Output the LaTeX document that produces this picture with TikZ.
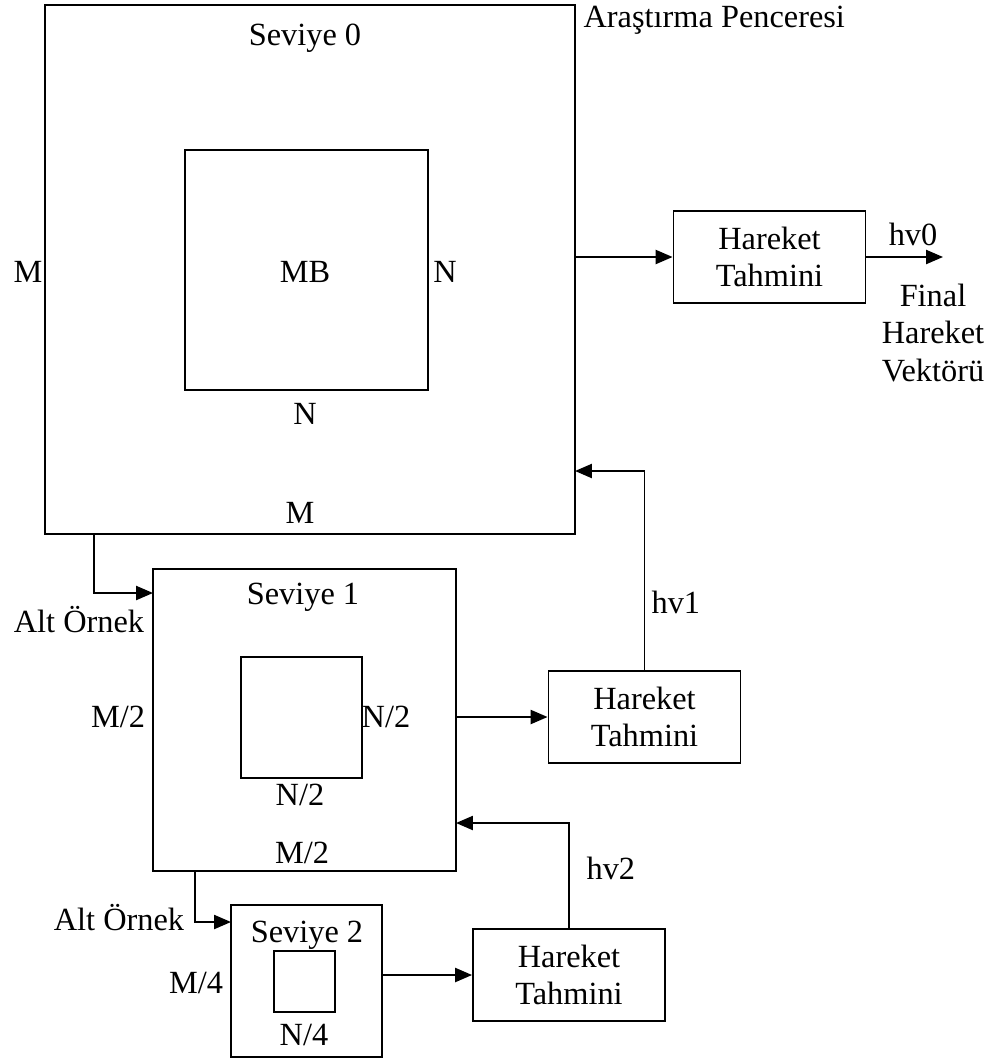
\documentclass[tikz,border=0pt]{standalone}
\usepackage{fontspec}
\setmainfont{Liberation Serif}
\usetikzlibrary{arrows.meta}

\begin{document}
\begin{tikzpicture}[x=0.025cm,y=-0.025cm,line width=1.3pt,
    every node/.style={font=\fontsize{23}{26.5}\selectfont},
    box/.style={draw,rectangle,inner sep=0pt},
    hbox/.style={box,minimum width=4.8cm,minimum height=2.28cm,align=center},
    arr/.style={-{Triangle[length=12pt,width=10pt]}}]
  \useasboundingbox (0,0) rectangle (1001,1061);
  % seviye 0
  \node[box,minimum width=13.25cm,minimum height=13.225cm] (lvl0) at (310,269.5) {};
  \node[box,minimum width=6.075cm,minimum height=6cm] (mb0) at (306.5,270) {};
  \node (s0) at (305,38) {Seviye 0};
  \node[anchor=west] (win) at (578,20) {Araştırma Penceresi};
  \node (m0l) at (28,272) {M};
  \node (mb) at (305,272) {MB};
  \node (n0r) at (445,272) {N};
  \node (n0b) at (305,414) {N};
  \node (m0b) at (300,513) {M};
  \node[hbox] (ht0) at (769.5,257) {Hareket\\Tahmini};
  \coordinate (out0) at (943,257);
  \draw[arr] (lvl0.east |- ht0.west) -- (ht0.west);
  \draw[arr] (ht0.east) -- (out0);
  \node[anchor=south] (hv0) at (913,251) {hv0};
  \node[align=center] (fin) at (933,333) {Final\\Hareket\\Vektörü};
  % seviye 1
  \node[box,minimum width=7.575cm,minimum height=7.55cm] (lvl1) at (304.5,720) {};
  \node[box,minimum width=3.025cm,minimum height=3.025cm] (in1) at (301.5,717.5) {};
  \node (s1) at (303,597) {Seviye 1};
  \node (m1l) at (118,717) {M/2};
  \node (n1r) at (386,717) {N/2};
  \node (n1b) at (300,795) {N/2};
  \node (m1b) at (302,853) {M/2};
  \node (alt0) at (79,620) {Alt Örnek};
  \coordinate (ds0) at (94,534);
  \coordinate (ds0e) at (153,593);
  \draw[arr] (ds0) |- (ds0e);
  \node[hbox] (ht1) at (644.5,717) {Hareket\\Tahmini};
  \draw[arr] (lvl1.east |- ht1.west) -- (ht1.west);
  \coordinate (fb1) at (575,471);
  \draw[arr] (ht1.north) |- (fb1);
  \node[anchor=west] (hv1) at (646,602) {hv1};
  % seviye 2
  \node[box,minimum width=3.775cm,minimum height=3.8cm] (lvl2) at (306.5,981) {};
  \node[box,minimum width=1.525cm,minimum height=1.525cm] (in2) at (304.5,981.5) {};
  \node (s2) at (307,935) {Seviye 2};
  \node (m2l) at (196,983) {M/4};
  \node (n2b) at (304,1035) {N/4};
  \node (alt1) at (119,918) {Alt Örnek};
  \coordinate (ds1) at (195,871);
  \coordinate (ds1e) at (231,922);
  \draw[arr] (ds1) |- (ds1e);
  \node[hbox] (ht2) at (569,975) {Hareket\\Tahmini};
  \draw[arr] (lvl2.east |- ht2.west) -- (ht2.west);
  \coordinate (fb2) at (456,823);
  \draw[arr] (ht2.north) |- (fb2);
  \node[anchor=west] (hv2) at (581,868) {hv2};
\end{tikzpicture}
\end{document}
